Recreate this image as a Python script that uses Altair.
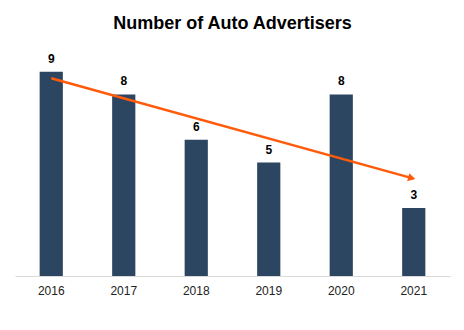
import altair as alt
import pandas as pd

years = ["2016", "2017", "2018", "2019", "2020", "2021"]
advertisers = [9, 8, 6, 5, 8, 3]
trend_years = ["2016", "2021"]
trend_values = [8.71, 4.29]

bars_df = pd.DataFrame({"year": years, "count": advertisers})
trend_df = pd.DataFrame({"year": trend_years, "value": trend_values})
head_df = trend_df.iloc[[-1]]

x_scale = alt.Scale(domain=years, paddingInner=0.68, paddingOuter=0.34)
y_scale = alt.Scale(domain=[0, 10], nice=False)

x_enc = alt.X("year:N", scale=x_scale, sort=years,
              axis=alt.Axis(title=None, labelAngle=0, ticks=False, domainColor="#D9D9D9",
                            domainWidth=1, labelFontSize=12, labelColor="#222222",
                            labelFont="Liberation Sans", labelPadding=9, grid=False))

bars = alt.Chart(bars_df).mark_bar(color="#2C4661").encode(
    x=x_enc,
    y=alt.Y("count:Q", scale=y_scale, axis=None),
)

labels = alt.Chart(bars_df).mark_text(
    dy=-13, fontSize=12, fontWeight="bold", font="Liberation Sans", color="#000000"
).encode(
    x=alt.X("year:N", scale=x_scale, sort=years),
    y=alt.Y("count:Q", scale=y_scale),
    text="count:Q",
)

line = alt.Chart(trend_df).mark_line(color="#FF5B0A", strokeWidth=2.5).encode(
    x=alt.X("year:N", scale=x_scale, sort=years),
    y=alt.Y("value:Q", scale=y_scale),
)

head = alt.Chart(head_df).mark_point(
    shape="triangle-right", filled=True, size=70, color="#FF5B0A", opacity=1,
    angle=15, xOffset=-2, yOffset=-0.5
).encode(
    x=alt.X("year:N", scale=x_scale, sort=years),
    y=alt.Y("value:Q", scale=y_scale),
)

chart = alt.layer(bars, labels, line, head).properties(
    width=435,
    height=227,
    title=alt.Title("Number of Auto Advertisers", fontSize=18, fontWeight="bold",
                    font="Liberation Sans", color="#000000", offset=16, anchor="middle"),
    autosize=alt.AutoSizeParams(type="none"),
    padding={"left": 15, "top": 49, "right": 14, "bottom": 54},
).configure_view(stroke=None)

chart.save("out.html", embed_options={"renderer": "svg", "actions": False})
